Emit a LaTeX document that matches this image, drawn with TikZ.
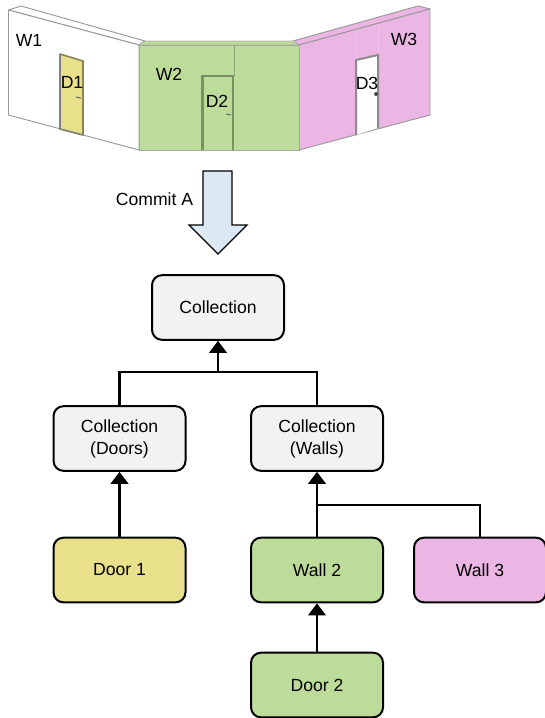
\documentclass[tikz,border=0pt]{standalone}
\usepackage{fontspec}
\setmainfont{Liberation Sans}
\usetikzlibrary{arrows.meta}
\definecolor{wallgreen}{HTML}{BDDC99}
\definecolor{wallpink}{HTML}{EBB5E4}
\definecolor{dooryellow}{HTML}{E8E08A}
\definecolor{boxgray}{HTML}{F2F2F2}
\definecolor{arrowblue}{HTML}{DCE9F5}
\tikzset{
	box/.style={draw=black, line width=1.5pt, rounded corners=7.5pt, minimum width=99pt, minimum height=48.5pt, inner sep=0pt, align=center, font=\fontsize{13.2}{16.5}\selectfont},
	wall/.style={draw=black!40, line width=0.7pt, line join=round},
	link/.style={line width=2.1pt},
	linkhead/.style={link, -{Triangle[length=9pt, width=13pt]}},
	tag/.style={inner sep=0pt, font=\fontsize{13.2}{15}\selectfont}
}

\begin{document}
\begin{tikzpicture}[x=0.75pt, y=-0.75pt]
			%%%%% START %%%%%
			\useasboundingbox (0, 0) rectangle (544, 718);

			% wall W1
			\draw[wall, fill=white] (8.5, 10) -- (21, 6) -- (145, 41) -- (139, 45) -- cycle;
			\draw[wall, fill=white] (8.5, 10) -- (139, 45) -- (139, 150) -- (8.5, 115) -- cycle;
			\draw[wall, fill=dooryellow] (60, 54) -- (83, 61) -- (83, 135) -- (60, 129) -- cycle;
			\draw[line width=1.2pt, color=black!50] (83, 135) -- (60, 129) -- (60, 54);
			\draw[line width=1.2pt, color=dooryellow!60!black] (60, 54) -- (83, 61) -- (83, 135);
			\draw[line width=0.8pt, color=black!60] (76, 97) -- (81, 98);

			% wall W3
			\draw[wall, fill=wallpink] (293, 41) -- (418, 6) -- (430, 9) -- (299, 45) -- cycle;
			\draw[wall, fill=wallpink] (299, 45) -- (430, 9) -- (430, 115) -- (299, 150) -- cycle;
			\draw[line width=0.4pt, color=wallpink!80!white] (356, 30) -- (356, 60);
			\draw[line width=0.4pt, color=wallpink!80!white] (378, 24) -- (378, 55);
			\draw[line width=1.5pt, color=black!45, fill=white] (356, 135) -- (356, 60) -- (378, 55) -- (378, 128);
			\fill[black!70] (376, 94) circle (2);

			% wall W2
			\draw[line width=0.7pt, draw=black!30, fill=wallgreen] (145, 41) -- (293, 41) -- (299, 45) -- (139, 45) -- cycle;
			\draw[line width=0.7pt, draw=black!35, fill=wallgreen] (139, 45) rectangle (299, 150);
			\draw[line width=0.5pt, color=wallgreen!75!black] (234, 45) -- (234, 76);
			\draw[line width=1.6pt, color=wallgreen!65!black] (202.5, 150) -- (202.5, 76) -- (233, 76) -- (233, 150);
			\draw[line width=0.8pt, color=black!60] (226, 114) -- (231, 115);

			\node[tag] (labelwa) at (29, 40) {W1};
			\node[tag] (labeldo) at (72, 82) {D1};
			\node[tag] (labelwb) at (169, 74) {W2};
			\node[tag] (labeldb) at (217, 101) {D2};
			\node[tag] (labelwc) at (404, 39) {W3};
			\node[tag] (labeldc) at (367, 83) {D3};

			% commit arrow
			\draw[line width=0.9pt, fill=arrowblue, line join=miter] (203, 171) -- (232, 171) -- (232, 225) -- (247, 225) -- (218, 254) -- (189, 225) -- (203, 225) -- cycle;
			\node[tag] (labelcommit) at (154.5, 199) {Commit A};

			% tree
			\node[box, fill=boxgray] (collection) at (218, 307.5) {Collection};
			\node[box, fill=boxgray] (doors) at (119.5, 438.5) {Collection\\(Doors)};
			\node[box, fill=boxgray] (walls) at (317, 438.5) {Collection\\(Walls)};
			\node[box, fill=dooryellow] (doorone) at (119.5, 570) {Door 1};
			\node[box, fill=wallgreen] (walltwo) at (317, 570) {Wall 2};
			\node[box, fill=wallpink] (wallthree) at (480, 570) {Wall 3};
			\node[box, fill=wallgreen] (doortwo) at (317, 685) {Door 2};

			\coordinate (joincollection) at (218, 372);
			\coordinate (joinwalls) at (317, 505);

			\draw[linkhead] (joincollection) -- (collection.south);
			\draw[link] (doors.north) |- (joincollection);
			\draw[link] (walls.north) |- (joincollection);
			\draw[linkhead] (doorone.north) -- (doors.south);
			\draw[linkhead] (walltwo.north) -- (walls.south);
			\draw[link] (wallthree.north) |- (joinwalls);
			\draw[linkhead] (doortwo.north) -- (walltwo.south);
			%%%%% END %%%%%
		\end{tikzpicture}
\end{document}
